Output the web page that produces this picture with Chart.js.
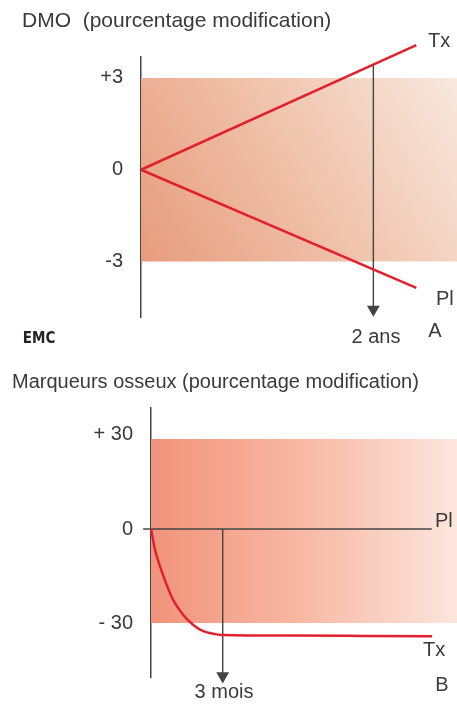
<!DOCTYPE html>
<html>
<head>
<meta charset="utf-8">
<script src="https://cdn.jsdelivr.net/npm/chart.js@4.4.1/dist/chart.umd.min.js"></script>
<style>
  html, body { margin: 0; padding: 0; background: #fff; }
  .wrap { position: absolute; left: 0; width: 457px; }
  canvas { display: block; }
</style>
</head>
<body>
<div class="wrap" style="top:0"><canvas id="dmo" width="457" height="360"></canvas></div>
<div class="wrap" style="top:360px"><canvas id="bm" width="457" height="344"></canvas></div>
<script>
// A : DMO (% de modification) en fonction du temps (années)
const dmoYears = [0, 2.37];
const dmoTx = [0, 4.07];
const dmoPl = [0, -3.86];
const dmoBand = [3, -3];          // zone +3 / -3
const dmoArrowX = [2, 2];          // repère "2 ans"
const dmoArrowY = [3.43, -4.56];
const dmoTickValues = [3, 0, -3];
const dmoTickLabels = ["+3", "0", "-3"];

// B : marqueurs osseux (% de modification) en fonction du temps (mois)
const bmMonths = [0, 0.17, 0.38, 0.66, 0.93, 1.35, 1.77, 2.19, 2.75, 3.0, 6, 9, 11.76];
const bmTx = [0, -6.7, -12, -17.9, -22.7, -27.4, -30.6, -32.6, -33.6, -33.8, -34, -34.1, -34.2];
const bmPlX = [-0.33, 11.74];
const bmPl = [0, 0];
const bmBand = [28.7, -30];
const bmArrowX = [3, 3];           // repère "3 mois"
const bmArrowY = [0, -46.9];
const bmTickValues = [30, 0, -30];
const bmTickLabels = ["+ 30", "0", "- 30"];

const FONT = '"Liberation Sans", Arial, sans-serif';
const TEXT = "#3a3a3a";
const RED = "#e1222d";
const INK = "#444";

const pts = (xs, ys) => xs.map((x, i) => ({ x, y: ys[i] }));

// petits textes libres (Tx, Pl, A, B...)
const notesPlugin = {
  id: "notes",
  afterDraw(chart, args, opts) {
    const ctx = chart.ctx;
    ctx.save();
    ctx.textBaseline = "middle";
    for (const n of opts.items || []) {
      ctx.font = n.font || `20px ${FONT}`;
      ctx.fillStyle = n.color || TEXT;
      ctx.textAlign = n.align || "left";
      ctx.fillText(n.text, n.x, n.y);
    }
    ctx.restore();
  },
};

function yAxis(min, max, values, labels, width) {
  return {
    min, max,
    afterFit(s) { s.width = width; },
    afterBuildTicks(s) { s.ticks = values.map((v) => ({ value: v })); },
    grid: { display: false },
    border: { display: true, color: INK, width: 1.5 },
    ticks: {
      padding: 10,
      color: TEXT,
      font: { family: FONT, size: 20 },
      callback: (v) => labels[values.indexOf(v)],
    },
  };
}

function arrow(xs, ys) {
  return {
    data: pts(xs, ys),
    borderColor: INK,
    backgroundColor: INK,
    borderWidth: 1.4,
    pointRadius: [0, 6],
    pointStyle: "triangle",
    pointRotation: 180,
    clip: false,
    order: 1,
  };
}

// --- A ---
new Chart(document.getElementById("dmo"), {
  type: "line",
  data: {
    datasets: [
      { data: pts(dmoYears, dmoTx), borderColor: RED, borderWidth: 2.5, pointRadius: 0, clip: false, order: 0 },
      { data: pts(dmoYears, dmoPl), borderColor: RED, borderWidth: 2.5, pointRadius: 0, clip: false, order: 0 },
      arrow(dmoArrowX, dmoArrowY),
      {
        data: pts([0, 2.72], [dmoBand[0], dmoBand[0]]),
        borderWidth: 0,
        pointRadius: 0,
        fill: { value: dmoBand[1] },
        order: 5,
        backgroundColor(c) {
          const a = c.chart.chartArea;
          if (!a) return "#f0c0a8";
          const y = c.chart.scales.y;
          const g = c.chart.ctx.createLinearGradient(a.left, y.getPixelForValue(dmoBand[1]), a.right, y.getPixelForValue(dmoBand[0]));
          g.addColorStop(0, "#e79c7e");
          g.addColorStop(0.5, "#f0c2aa");
          g.addColorStop(1, "#f8e8df");
          return g;
        },
      },
    ],
  },
  options: {
    responsive: false,
    animation: false,
    layout: { autoPadding: false, padding: { left: 22, right: 0, top: 0, bottom: 43 } },
    scales: {
      x: { type: "linear", display: false, min: 0, max: 2.72 },
      y: yAxis(-4.81, 3.676, dmoTickValues, dmoTickLabels, 119),
    },
    plugins: {
      legend: { display: false },
      tooltip: { enabled: false },
      title: {
        display: true,
        text: "DMO  (pourcentage modification)",
        align: "start",
        color: TEXT,
        font: { family: FONT, size: 21, weight: "normal" },
        padding: { top: 9, bottom: 23 },
      },
      notes: {
        items: [
          { text: "Tx", x: 428, y: 41 },
          { text: "Pl", x: 436, y: 299 },
          { text: "2 ans", x: 376, y: 337, align: "center" },
          { text: "A", x: 435, y: 331, align: "center" },
          { text: "EMC", x: 39, y: 339, align: "center", color: "#222",
            font: `bold 15px "Liberation Sans Narrow", "DejaVu Sans Condensed", sans-serif` },
        ],
      },
    },
  },
  plugins: [notesPlugin],
});

// --- B ---
new Chart(document.getElementById("bm"), {
  type: "line",
  data: {
    datasets: [
      { data: pts(bmMonths, bmTx), borderColor: RED, borderWidth: 2.5, pointRadius: 0, cubicInterpolationMode: "monotone", clip: false, order: 0 },
      { data: pts(bmPlX, bmPl), borderColor: INK, borderWidth: 1.5, pointRadius: 0, clip: false, order: 1 },
      arrow(bmArrowX, bmArrowY),
      {
        data: pts([0, 12.8], [bmBand[0], bmBand[0]]),
        borderWidth: 0,
        pointRadius: 0,
        fill: { value: bmBand[1] },
        order: 5,
        backgroundColor(c) {
          const a = c.chart.chartArea;
          if (!a) return "#f8b7a2";
          const g = c.chart.ctx.createLinearGradient(a.left, 0, a.right, 0);
          g.addColorStop(0, "#f2937a");
          g.addColorStop(0.5, "#f8b9a5");
          g.addColorStop(1, "#fce6dd");
          return g;
        },
      },
    ],
  },
  options: {
    responsive: false,
    animation: false,
    layout: { autoPadding: false, padding: { left: 12, right: 0, top: 0, bottom: 27 } },
    scales: {
      x: { type: "linear", display: false, min: 0, max: 12.8 },
      y: yAxis(-47.2, 38.6, bmTickValues, bmTickLabels, 139),
    },
    plugins: {
      legend: { display: false },
      tooltip: { enabled: false },
      title: {
        display: true,
        text: "Marqueurs osseux (pourcentage modification)",
        align: "start",
        color: TEXT,
        font: { family: FONT, size: 20, weight: "normal" },
        padding: { top: 10, bottom: 14 },
      },
      notes: {
        items: [
          { text: "Pl", x: 435, y: 161 },
          { text: "Tx", x: 423, y: 290 },
          { text: "3 mois", x: 224, y: 332, align: "center" },
          { text: "B", x: 442, y: 325, align: "center" },
        ],
      },
    },
  },
  plugins: [notesPlugin],
});
</script>
</body>
</html>
